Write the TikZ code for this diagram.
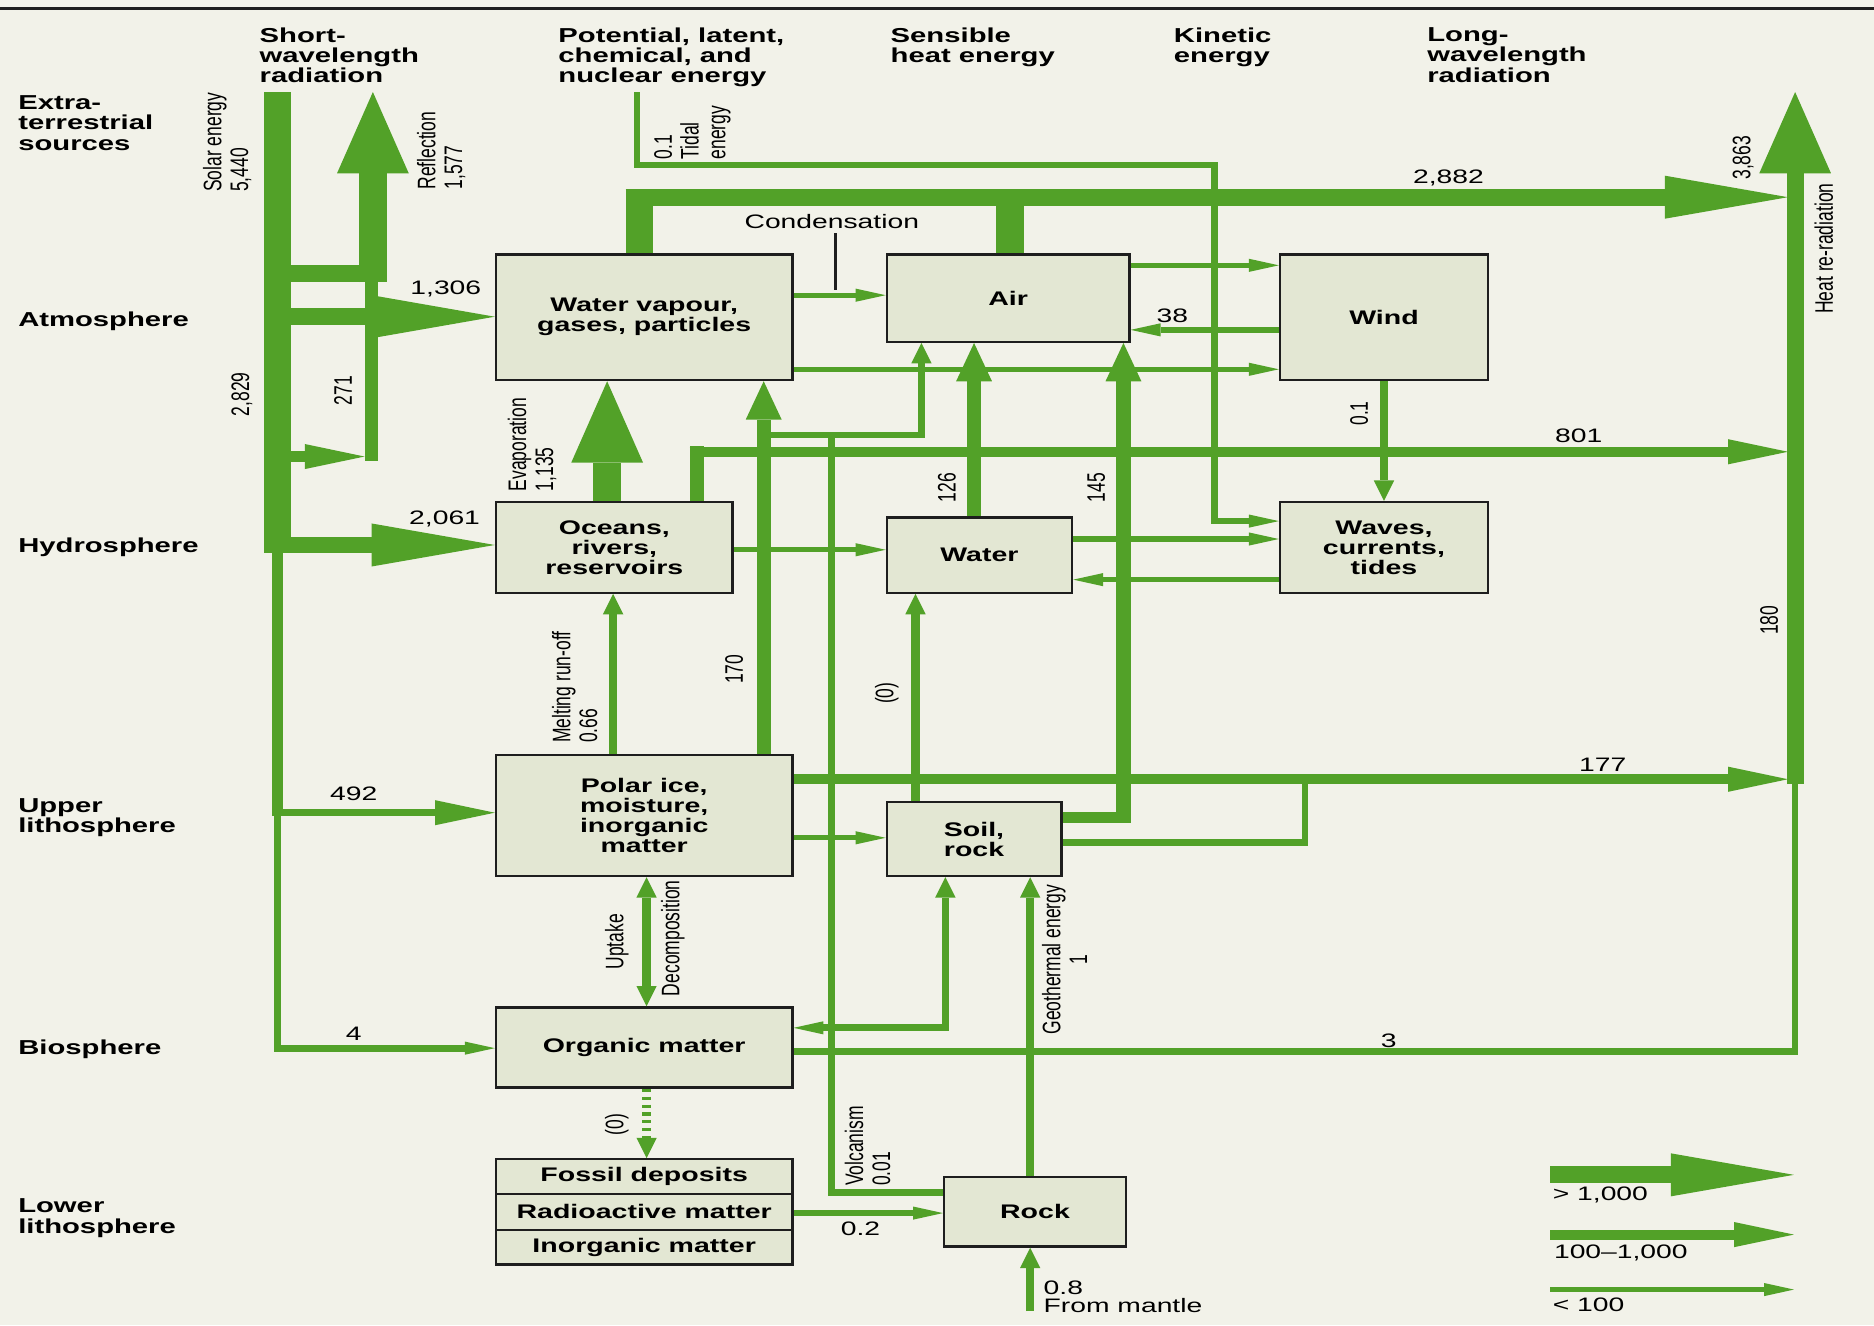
\documentclass[tikz,border=0pt]{standalone}
\usepackage{fontspec}
\setmainfont{Liberation Sans}[FakeStretch=1.45]
\newfontfamily\vfont{Liberation Sans}
\usepackage{graphicx}
\usetikzlibrary{arrows.meta}

\definecolor{flow}{RGB}{82,161,40}
\definecolor{paper}{RGB}{242,242,233}
\definecolor{boxfill}{RGB}{227,231,211}
\definecolor{boxline}{RGB}{30,30,30}

\newcommand{\vtxt}[2][l]{\scalebox{1}[1.45]{\begin{tabular}{@{}#1@{}}#2\end{tabular}}}

\begin{document}
\begin{tikzpicture}[x=0.025cm, y=-0.025cm,
  box/.style={draw=boxline, fill=boxfill, line width=1.4pt, inner sep=0pt, align=center, font=\bfseries\fontsize{11.7}{11.9}\selectfont},
  head/.style={anchor=north west, inner sep=0pt, align=left, font=\bfseries\fontsize{12}{12}\selectfont},
  lab/.style={inner sep=0pt, font=\fontsize{11.6}{11}\selectfont},
  vlab/.style={inner sep=0pt, rotate=90, font=\vfont\fontsize{10.4}{11}\selectfont},
  hsmall/.style={draw=flow, line width=0.1125cm},
  vsmall/.style={draw=flow, line width=0.175cm},
  msmall/.style={draw=flow, line width=0.14cm},
  hmid/.style={draw=flow, line width=0.2125cm},
  vmid/.style={draw=flow, line width=0.3cm},
  hbig/.style={draw=flow, line width=0.35cm},
  vbig/.style={draw=flow, line width=0.575cm},
  hsmalltip/.style={-{Triangle[length=0.625cm, width=0.275cm, line width=0pt]}},
  vsmalltip/.style={-{Triangle[length=0.425cm, width=0.425cm, line width=0pt]}},
  hmidtip/.style={-{Triangle[length=1.25cm, width=0.525cm, line width=0pt]}},
  vmidtip/.style={-{Triangle[length=0.8cm, width=0.75cm, line width=0pt]}},
  hbigtip/.style={-{Triangle[length=2.575cm, width=0.9cm, line width=0pt]}},
  vbigtip/.style={-{Triangle[length=1.7cm, width=1.5cm, line width=0pt]}},
  vbothtips/.style={{Triangle[length=0.425cm, width=0.425cm, line width=0pt]}-{Triangle[length=0.425cm, width=0.425cm, line width=0pt]}},
  mixtips/.style={{Triangle[length=0.625cm, width=0.275cm, line width=0pt]}-{Triangle[length=0.425cm, width=0.425cm, line width=0pt]}}
]
\useasboundingbox (0,0) rectangle (1568,1109);
\fill[paper] (0,0) rectangle (1568,1109);
\draw[boxline, line width=0.05cm] (0,7) -- (1568,7);

% column and row headings
\node[head] (hshort) at (217,23) {Short-\\wavelength\\radiation};
\node[head] (hpot) at (467,23) {Potential, latent,\\chemical, and\\nuclear energy};
\node[head] (hsens) at (745,23) {Sensible\\heat energy};
\node[head] (hkin) at (982,23) {Kinetic\\energy};
\node[head] (hlong) at (1194,23) {Long-\\wavelength\\radiation};
\node[head] (rext) at (15,80) {Extra-\\terrestrial\\sources};
\node[head] (ratm) at (15,261) {Atmosphere};
\node[head] (rhyd) at (15,450) {Hydrosphere};
\node[head] (rupp) at (15,668) {Upper\\lithosphere};
\node[head] (rbio) at (15,870) {Biosphere};
\node[head] (rlow) at (15,1003) {Lower\\lithosphere};

% stores
\node[box, minimum width=6.2cm, minimum height=2.625cm] (wv) at (539,265.5) {Water vapour,\\gases, particles};
\node[box, minimum width=5.075cm, minimum height=1.825cm] (air) at (843.5,249.5) {Air};
\node[box, minimum width=4.35cm, minimum height=2.625cm] (wind) at (1158,265.5) {Wind};
\node[box, minimum width=4.95cm, minimum height=1.9cm] (ocean) at (514,458) {Oceans,\\rivers,\\reservoirs};
\node[box, minimum width=3.875cm, minimum height=1.575cm] (water) at (819.5,464.5) {Water};
\node[box, minimum width=4.35cm, minimum height=1.9cm] (waves) at (1158,458) {Waves,\\currents,\\tides};
\node[box, minimum width=6.2cm, minimum height=2.525cm] (polar) at (539,682.5) {Polar ice,\\moisture,\\inorganic\\matter};
\node[box, minimum width=3.65cm, minimum height=1.55cm] (soil) at (815,702) {Soil,\\rock};
\node[box, minimum width=6.2cm, minimum height=1.675cm] (organic) at (539,876.5) {Organic matter};
\node[box, minimum width=6.2cm, minimum height=0.725cm] (fossil) at (539,984.5) {Fossil deposits};
\node[box, minimum width=6.2cm, minimum height=0.75cm] (radio) at (539,1014) {Radioactive matter};
\node[box, minimum width=6.2cm, minimum height=0.725cm] (inorg) at (539,1043.5) {Inorganic matter};
\node[box, minimum width=3.8cm, minimum height=1.45cm] (rock) at (866,1014) {Rock};

% free ends
\coordinate (sun) at (232,77);
\coordinate (refl) at (312,77);
\coordinate (tide) at (533,77);
\coordinate (heattop) at (1502,77);
\coordinate (heatbot) at (1502,880);
\coordinate (mantle) at (862,1097);

% solar input
\draw[vbig] (sun) -- (232,463);
\draw[vmid, line width=0.23cm] (232,460) -- (232,683);
\draw[hbig] (232,229) -- (324,229);
\draw[vbig, vbigtip] (312,236) -- (refl);
\draw[hbig, hbigtip] (232,265) -- (wv.west |- 0,265);
\draw[vmid, line width=0.275cm] (311,236) -- (311,386);
\draw[hmid, hmidtip] (232,382) -- (305,382);
\draw[hbig, hbigtip] (232,456) -- (ocean.west |- 0,456);
\draw[msmall, hmidtip] (232,680) -- (polar.west |- 0,680);
\draw[msmall, hsmalltip] (232,680) -- (232,877) -- (organic.west |- 0,877);

% tidal energy
\draw[msmall, hsmalltip] (tide) -- (533,138) -- (1016,138) -- (1016,436) -- (waves.west |- 0,436);

% long-wavelength output
\draw[vbig] (wv.north -| 535,0) -- (535,158);
\draw[vbig] (air.north -| 845,0) -- (845,158);
\draw[hbig, hbigtip] (523.5,165) -- (1496,165);
\draw[vbig, line width=0.35cm, vbigtip] (1502,656) -- (heattop);
\draw[msmall] (organic.east |- 0,880) -- (heatbot) -- (1502,650);
\draw[vmid] (ocean.north -| 583,0) -- (583,373.5);
\draw[hmid, hmidtip] (577,378) -- (1496,378);
\draw[hmid, hmidtip] (polar.east |- 0,652) -- (1496,652);
\draw[msmall] (soil.east |- 0,705) -- (1092,705) -- (1092,652);

% vertical exchanges
\draw[vbig, vbigtip] (ocean.north -| 508,0) -- (wv.south -| 508,0);
\draw[vmid, vmidtip] (polar.north -| 639,0) -- (wv.south -| 639,0);
\draw[msmall, vsmalltip] (639,364) -- (771,364) -- (air.south -| 771,0);
\draw[msmall] (rock.west |- 0,998) -- (696,998) -- (696,364);
\draw[vmid, vmidtip] (water.north -| 815,0) -- (air.south -| 815,0);
\draw[hmid] (soil.east |- 0,684) -- (946,684);
\draw[vmid, vmidtip] (940,688) -- (air.south -| 940,0);
\draw[vsmall, vsmalltip] (wind.south) -- (waves.north);
\draw[vsmall, vsmalltip] (soil.north -| 766,0) -- (water.south -| 766,0);
\draw[vsmall, vsmalltip] (polar.north -| 513,0) -- (ocean.south -| 513,0);
\draw[vsmall, vbothtips] (polar.south -| 541,0) -- (organic.north -| 541,0);
\draw[msmall, mixtips] (organic.east |- 0,860) -- (791,860) -- (soil.south -| 791,0);
\draw[vsmall, vsmalltip] (rock.north -| 862,0) -- (soil.south -| 862,0);
\draw[vsmall, vsmalltip, dash pattern=on 0.065cm off 0.1cm] (organic.south -| 541,0) -- (fossil.north -| 541,0);
\draw[vsmall, vsmalltip] (mantle) -- (rock.south -| 862,0);

% horizontal exchanges
\draw[hsmall, hsmalltip] (wv.east |- 0,247) -- (air.west |- 0,247);
\draw[hsmall, hsmalltip] (wv.east |- 0,309) -- (wind.west |- 0,309);
\draw[hsmall, hsmalltip] (air.east |- 0,222) -- (wind.west |- 0,222);
\draw[hsmall, hsmalltip] (wind.west |- 0,276) -- (air.east |- 0,276);
\draw[hsmall, hsmalltip] (ocean.east |- 0,460) -- (water.west |- 0,460);
\draw[hsmall, hsmalltip] (water.east |- 0,451) -- (waves.west |- 0,451);
\draw[hsmall, hsmalltip] (waves.west |- 0,485) -- (water.east |- 0,485);
\draw[hsmall, hsmalltip] (polar.east |- 0,701) -- (soil.west |- 0,701);
\draw[hsmall, hsmalltip] (radio.east |- 0,1015) -- (rock.west |- 0,1015);

% labels
\node[lab] (cond) at (696,185) {Condensation};
\draw[boxline, line width=0.07cm] (cond.south -| 699,0) ++(0,4) -- (699,243);
\node[lab] (l1306) at (373,242) {1,306};
\node[lab] (l2061) at (372,434) {2,061};
\node[lab] (l492) at (296,664) {492};
\node[lab] (l4) at (296,865) {4};
\node[lab] (l2882) at (1212,149) {2,882};
\node[lab] (l38) at (981,264) {38};
\node[lab] (l801) at (1321,365) {801};
\node[lab] (l177) at (1341,640) {177};
\node[lab] (l3) at (1162,871) {3};
\node[lab] (l02) at (720,1028) {0.2};
\node[lab, anchor=west, align=left] (lmantle) at (873,1085) {0.8\\From mantle};

\node[vlab] (lsolar) at (192,119) {\vtxt{Solar energy\\5,440}};
\node[vlab] (lrefl) at (371,126) {\vtxt{Reflection\\1,577}};
\node[vlab] (ltide) at (580,111) {\vtxt{0.1\\Tidal\\energy}};
\node[vlab] (l2829) at (204,330) {\vtxt{2,829}};
\node[vlab] (l271) at (290,327) {\vtxt{271}};
\node[vlab] (levap) at (447,372) {\vtxt{Evaporation\\1,135}};
\node[vlab] (lmelt) at (484,575) {\vtxt{Melting run-off\\0.66}};
\node[vlab] (l170) at (617,560) {\vtxt{170}};
\node[vlab] (lzero) at (743,580) {\vtxt{(0)}};
\node[vlab] (l126) at (795,408) {\vtxt{126}};
\node[vlab] (l145) at (920,408) {\vtxt{145}};
\node[vlab] (lwind) at (1140,346) {\vtxt{0.1}};
\node[vlab] (l3863) at (1460,132) {\vtxt{3,863}};
\node[vlab] (lheat) at (1529,208) {\vtxt{Heat re-radiation}};
\node[vlab] (l180) at (1483,519) {\vtxt{180}};
\node[vlab] (lup) at (517,788) {\vtxt{Uptake}};
\node[vlab] (ldec) at (564,785) {\vtxt{Decomposition}};
\node[vlab] (lfos) at (517,941) {\vtxt{(0)}};
\node[vlab] (lvolc) at (729,959) {\vtxt{Volcanism\\0.01}};
\node[vlab] (lgeo) at (894,803) {\vtxt[c]{Geothermal energy\\1}};

% key
\coordinate (k1) at (1297,983);
\coordinate (k1e) at (1501,983);
\coordinate (k2) at (1297,1033);
\coordinate (k2e) at (1501,1033);
\coordinate (k3) at (1297,1079);
\coordinate (k3e) at (1501,1079);
\draw[hbig, hbigtip] (k1) -- (k1e);
\draw[hmid, hmidtip] (k2) -- (k2e);
\draw[hsmall, hsmalltip] (k3) -- (k3e);
\node[lab, anchor=west] (kl1) at (1299,1000) {> 1,000};
\node[lab, anchor=west] (kl2) at (1300,1048) {100--1,000};
\node[lab, anchor=west] (kl3) at (1299,1092) {< 100};
\end{tikzpicture}
\end{document}
